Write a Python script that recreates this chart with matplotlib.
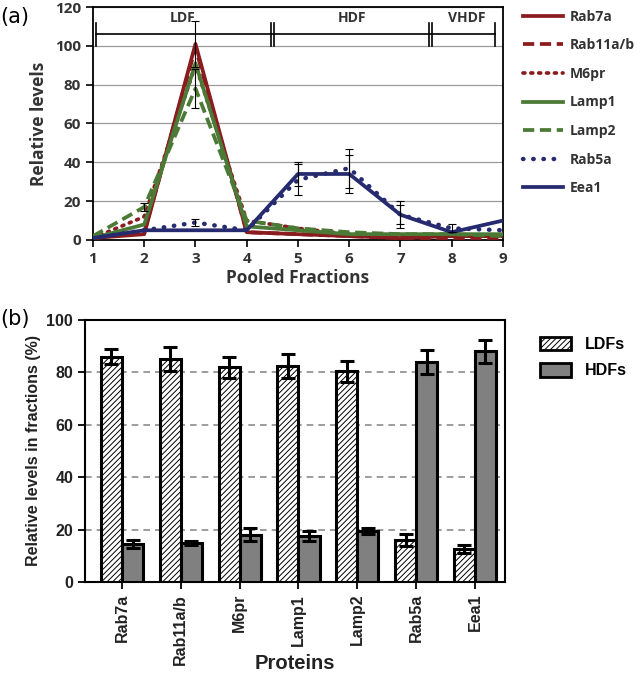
import matplotlib.pyplot as plt
import numpy as np
from matplotlib.lines import Line2D
from matplotlib.patches import Patch

# ---- panel (a) data: relative levels across pooled fractions ----
fractions = [1, 2, 3, 4, 5, 6, 7, 8, 9]
rab7a = [1, 3, 101, 4, 3, 2, 1, 2, 2]
rab11 = [1, 4, 99, 4, 3, 2, 1, 1, 1]
m6pr = [1, 12, 90, 10, 6, 3, 2, 2, 2]
lamp1 = [1, 8, 91, 7, 5, 3, 3, 3, 3]
lamp2 = [2, 17, 78, 10, 6, 4, 3, 3, 2]
rab5a = [1, 5, 9, 5, 31, 37, 13, 6, 5]
eea1 = [1, 5, 5, 5, 34, 34, 13, 4, 10]

err_rab7a = [0, 0, 12, 0, 0, 0, 0, 0, 0]
err_lamp2 = [0, 2, 10, 0, 0, 0, 0, 0, 0]
err_rab5a = [0, 0, 2, 0, 8, 10, 7, 2, 0]
err_eea1 = [0, 0, 0, 0, 6, 10, 5, 0, 0]

# ---- panel (b) data: LDF vs HDF distribution ----
proteins = ["Rab7a", "Rab11a/b", "M6pr", "Lamp1", "Lamp2", "Rab5a", "Eea1"]
ldf = [86, 85, 82, 82.5, 80.5, 16, 12.5]
ldf_err = [3, 4.5, 4, 4.5, 4, 2.2, 1.5]
hdf = [14.5, 15, 18, 17.5, 19.5, 84, 88]
hdf_err = [1.5, 0.7, 2.5, 2, 1.2, 4.5, 4.5]

RED = "#8a1c1f"
GREEN = "#4b7a36"
NAVY = "#262a6e"
TOPFONT = "Open Sans"
BOTFONT = "Liberation Sans"

fig = plt.figure(figsize=(6.44, 6.81), dpi=100)

# ================= panel (a) =================
ax = fig.add_axes([0.1444, 0.6476, 0.6366, 0.3421])
series = [
    ("Rab7a", rab7a, RED, "-", err_rab7a),
    ("Rab11a/b", rab11, RED, (0, (3, 1.5)), None),
    ("M6pr", m6pr, RED, (0, (0.5, 1.6)), None),
    ("Lamp1", lamp1, GREEN, "-", None),
    ("Lamp2", lamp2, GREEN, (0, (3, 1.5)), err_lamp2),
    ("Rab5a", rab5a, NAVY, (0, (0.1, 2.2)), err_rab5a),
    ("Eea1", eea1, NAVY, "-", err_eea1),
]
handles = []
for name, y, c, ls, err in series:
    cap = "round" if name in ("Rab5a", "M6pr") else "butt"
    lw = 3.2 if name == "Rab5a" else 2.7
    ax.plot(fractions, y, color=c, ls=ls, lw=lw, dash_capstyle=cap,
            solid_capstyle="butt", zorder=3)
    handles.append(Line2D([], [], color=c, ls=ls, lw=lw, dash_capstyle=cap, label=name))
    if err is not None:
        xs = [f for f, e in zip(fractions, err) if e > 0]
        ys = [v for v, e in zip(y, err) if e > 0]
        es = [e for e in err if e > 0]
        ax.errorbar(xs, ys, yerr=es, fmt="none", ecolor="black", elinewidth=0.8,
                    capsize=3, capthick=0.8, zorder=4)

ax.set_xlim(1, 9)
ax.set_ylim(0, 120)
ax.set_xticks(fractions)
ax.set_yticks(range(0, 121, 20))
ax.grid(axis="y", color="#9a9a9a", lw=0.9)
ax.set_axisbelow(True)
for s in ax.spines.values():
    s.set_linewidth(1.3)
ax.tick_params(direction="out", length=5, width=1.2, labelsize=11)
for lbl in ax.get_xticklabels() + ax.get_yticklabels():
    lbl.set_fontfamily(TOPFONT)
    lbl.set_fontweight("bold")
    lbl.set_color("#333333")
ax.set_xlabel("Pooled Fractions", fontfamily=TOPFONT, fontweight="bold",
              fontsize=12.5, color="#333333", labelpad=2)
ax.set_ylabel("Relative levels", fontfamily=TOPFONT, fontweight="bold",
              fontsize=12.5, color="#333333", labelpad=5)

# density-region bracket
yb = 106
ax.plot([1.06, 8.85], [yb, yb], color="black", lw=1.2, clip_on=False, zorder=5)
for xv in [1.06, 4.48, 4.54, 7.55, 7.61, 8.85]:
    ax.plot([xv, xv], [100, 112], color="black", lw=1.2, clip_on=False, zorder=5)
for txt, xv in [("LDF", 2.75), ("HDF", 6.05), ("VHDF", 8.3)]:
    ax.text(xv, 114.5, txt, ha="center", va="center", fontfamily=TOPFONT,
            fontweight="bold", fontsize=10, color="#333333")

leg = ax.legend(handles=handles, loc="upper left", bbox_to_anchor=(1.025, 1.03),
                frameon=False, handlelength=2.9, labelspacing=1.05, handletextpad=0.5,
                borderaxespad=0.3,
                prop={"family": TOPFONT, "weight": "bold", "size": 10})
for t in leg.get_texts():
    t.set_color("#333333")

fig.text(0.0, 0.975, "(a)", fontsize=15, va="center", ha="left", fontfamily="DejaVu Sans")

# ================= panel (b) =================
bx = fig.add_axes([0.132, 0.1454, 0.652, 0.3848])
pos = np.arange(len(proteins))
w = 0.36
plt.rcParams["hatch.linewidth"] = 0.7
bx.bar(pos - w / 2, ldf, w, color="white", edgecolor="black", hatch="//////",
       linewidth=2.2, zorder=3, label="LDFs")
bx.bar(pos + w / 2, hdf, w, color="#808080", edgecolor="black",
       linewidth=2.2, zorder=3, label="HDFs")
bx.errorbar(pos - w / 2, ldf, yerr=ldf_err, fmt="none", ecolor="black",
            elinewidth=2.2, capsize=5, capthick=2.2, zorder=4)
bx.errorbar(pos + w / 2, hdf, yerr=hdf_err, fmt="none", ecolor="black",
            elinewidth=2.2, capsize=5, capthick=2.2, zorder=4)

bx.set_xlim(-0.63, 6.51)
bx.set_ylim(0, 100)
bx.set_yticks(range(0, 101, 20))
bx.set_xticks(pos)
bx.set_xticklabels(proteins, rotation=90)
bx.grid(axis="y", color="#8c8c8c", ls=(0, (4, 3)), lw=1.2)
bx.set_axisbelow(True)
for s in bx.spines.values():
    s.set_linewidth(1.5)
bx.tick_params(direction="out", length=5, width=1.3, labelsize=11.5)
for lbl in bx.get_xticklabels() + bx.get_yticklabels():
    lbl.set_fontfamily(BOTFONT)
    lbl.set_fontweight("bold")
    lbl.set_color("#222222")
bx.set_ylabel("Relative levels in fractions (%)", fontfamily=BOTFONT,
              fontweight="bold", fontsize=11.5, color="#222222", labelpad=4)
bx.set_xlabel("Proteins", fontfamily=BOTFONT, fontweight="bold",
              fontsize=14.5, color="#222222", va="center")
bx.xaxis.set_label_coords(0.5, -0.31)

bhandles = [Patch(facecolor="white", edgecolor="black", hatch="//////", lw=2.0, label="LDFs"),
            Patch(facecolor="#808080", edgecolor="black", lw=2.0, label="HDFs")]
bx.legend(handles=bhandles, loc="upper left", bbox_to_anchor=(1.05, 0.99),
          frameon=False, handlelength=1.9, handleheight=0.9, labelspacing=0.7,
          handletextpad=0.9,
          prop={"family": BOTFONT, "weight": "bold", "size": 11.5})

fig.text(0.0, 0.532, "(b)", fontsize=15, va="center", ha="left", fontfamily="DejaVu Sans")

fig.savefig("out.png", dpi=100)
